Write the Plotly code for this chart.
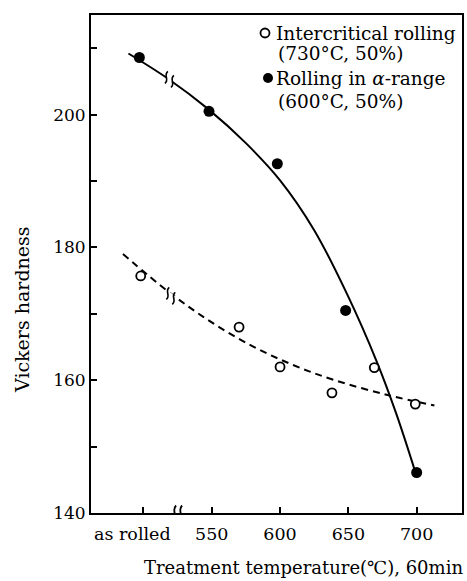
import plotly.graph_objects as go

# ---- data ----
tick_vals = [500, 550, 600, 650, 700]
tick_text = ["as rolled\u00a0\u00a0\u00a0\u00a0", "550", "600", "650", "700"]

# Rolling in alpha-range (600°C, 50%) – filled circles
alpha_x = [497, 548, 598, 648, 700]
alpha_y = [208.6, 200.5, 192.6, 170.5, 146.1]

# Intercritical rolling (730°C, 50%) – open circles
inter_x = [498, 570, 600, 638, 669, 699]
inter_y = [175.7, 168.0, 162.0, 158.1, 161.9, 156.4]

# hand-drawn trend curves
solid_x = [489, 518, 547, 575, 600, 625, 649, 671, 685, 699]
solid_y = [209.2, 205.4, 200.9, 195.7, 190.1, 182.6, 173.0, 162.7, 155.0, 146.2]
dashed_x = [485, 520, 550, 580, 610, 640, 680, 713]
dashed_y = [179.0, 173.05, 168.7, 165.1, 162.25, 160.0, 157.7, 156.2]

# axis / curve break positions
break_axis = (525, 140)
break_solid = (519, 205.3)
break_dashed = (520, 172.7)

legend_rows = ["Intercritical rolling", "(730°C, 50%)",
               "Rolling in <i>α</i>-range", "(600°C, 50%)"]

FONT = "DejaVu Serif"
W, H = 467, 581
ML, MR, MT, MB = 91, 5, 15, 68

fig = go.Figure()
fig.add_trace(go.Scatter(x=solid_x, y=solid_y, mode="lines",
                         line=dict(color="black", width=2, shape="spline", smoothing=1.0),
                         hoverinfo="skip", showlegend=False))
fig.add_trace(go.Scatter(x=dashed_x, y=dashed_y, mode="lines",
                         line=dict(color="black", width=2, dash="7px,5px", shape="spline", smoothing=1.0),
                         hoverinfo="skip", showlegend=False))
fig.add_trace(go.Scatter(x=alpha_x, y=alpha_y, mode="markers",
                         marker=dict(size=11, color="black", line=dict(width=0)),
                         showlegend=False))
fig.add_trace(go.Scatter(x=inter_x, y=inter_y, mode="markers",
                         marker=dict(size=9, color="white", line=dict(color="black", width=1.8)),
                         showlegend=False))

pw = W - ML - MR
ph = H - MT - MB


def px2paper(px, py):
    return (px - ML) / pw, (H - MB - py) / ph


def s_curve(cx, cy, h):
    # small vertical S-shaped stroke centred on (cx, cy), pixel offsets (y up)
    return (f"M{cx - 1.5},{cy - h} C{cx + 3.5},{cy - h / 3} {cx - 3.5},{cy + h / 3} {cx + 1.5},{cy + h}")


shapes = []


def add_break(xv, yv, slope_px, h, gap, w):
    dy = gap * slope_px
    shapes.append(dict(type="path", xref="x", yref="y", xsizemode="pixel", ysizemode="pixel",
                       xanchor=xv, yanchor=yv,
                       path=f"M{-gap},{-dy} L{gap},{dy}",
                       line=dict(color="white", width=5)))
    for sgn in (-1, 1):
        cx = sgn * gap
        cy = sgn * dy
        shapes.append(dict(type="path", xref="x", yref="y", xsizemode="pixel", ysizemode="pixel",
                           xanchor=xv, yanchor=yv, path=s_curve(cx, cy, h),
                           line=dict(color="black", width=w)))


add_break(break_axis[0], break_axis[1], 0.0, 7.5, 3, 1.8)
add_break(break_solid[0], break_solid[1], -0.68, 6, 3, 1.6)
add_break(break_dashed[0], break_dashed[1], -0.8, 6, 3, 1.6)

annotations = []
rows_px = [(274, 33), (276, 54), (274, 78), (276, 101)]
for t, (px, py) in zip(legend_rows, rows_px):
    ax, ay = px2paper(px, py)
    annotations.append(dict(x=ax, y=ay, xref="paper", yref="paper", text=t, showarrow=False,
                            xanchor="left", yanchor="middle",
                            font=dict(family=FONT, size=18.5, color="black")))

ax, ay = px2paper(465, 567)
annotations.append(dict(x=ax, y=ay, xref="paper", yref="paper",
                        text="Treatment temperature(℃), 60min", showarrow=False,
                        xanchor="right", yanchor="middle",
                        font=dict(family=FONT, size=18, color="black")))
ax, ay = px2paper(22, 310)
annotations.append(dict(x=ax, y=ay, xref="paper", yref="paper", text="Vickers hardness",
                        showarrow=False, textangle=-90, xanchor="center", yanchor="middle",
                        font=dict(family=FONT, size=19, color="black")))

for (px, py), filled in [((265, 33), False), ((268, 78), True)]:
    sx, sy = px2paper(px, py)
    r = 4.5 if not filled else 5
    shapes.append(dict(type="circle", xref="paper", yref="paper", xsizemode="pixel",
                       ysizemode="pixel", xanchor=sx, yanchor=sy, x0=-r, x1=r, y0=-r, y1=r,
                       line=dict(color="black", width=1.8 if not filled else 0),
                       fillcolor="black" if filled else "white"))

fig.update_layout(
    width=W, height=H,
    margin=dict(l=ML, r=MR, t=MT, b=MB, autoexpand=False),
    paper_bgcolor="white", plot_bgcolor="white",
    font=dict(family=FONT, size=17, color="black"),
    annotations=annotations, shapes=shapes,
    xaxis=dict(range=[461.6, 733.2], tickvals=tick_vals, ticktext=tick_text,
               tickangle=0, automargin=False,
               ticks="inside", ticklen=6, tickwidth=1.5, tickcolor="black",
               showline=True, linecolor="black", linewidth=2, mirror=True,
               showgrid=False, zeroline=False, ticklabelstandoff=4,
               tickfont=dict(family=FONT, size=17.5)),
    yaxis=dict(range=[140, 215.0], tick0=140, dtick=20, automargin=False,
               ticks="inside", ticklen=6, tickwidth=1.5, tickcolor="black",
               minor=dict(dtick=10, tick0=140, ticks="inside", ticklen=6, tickwidth=1.5,
                          tickcolor="black", showgrid=False),
               showline=True, linecolor="black", linewidth=2, mirror=True,
               showgrid=False, zeroline=False, ticklabelstandoff=0,
               tickfont=dict(family=FONT, size=17)),
)

fig.write_html("out.html", config={"displayModeBar": False},
               post_script="document.body.style.margin='0';document.documentElement.style.overflow='hidden';")
